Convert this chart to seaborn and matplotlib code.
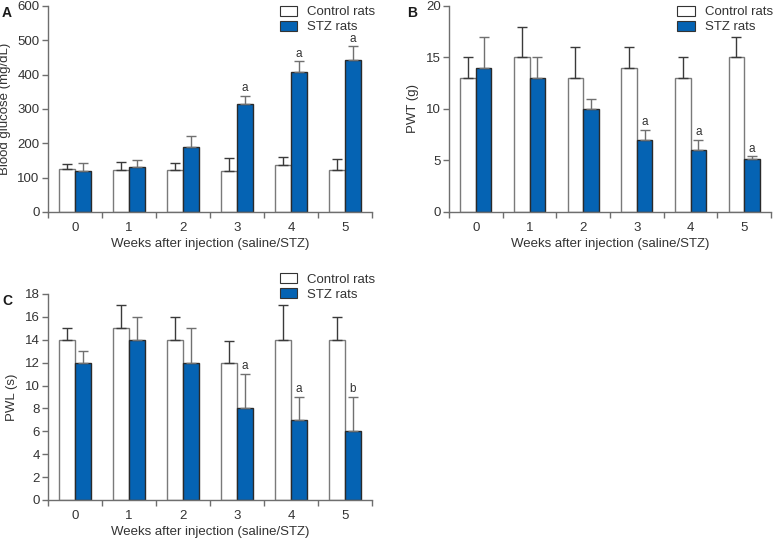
import seaborn as sns
import matplotlib.pyplot as plt
import pandas as pd
import numpy as np
from matplotlib.patches import Patch
from matplotlib.ticker import FixedLocator

weeks = ['0', '1', '2', '3', '4', '5']
groups = ['Control rats', 'STZ rats']

glucose_ctrl = [125, 121, 123, 119, 136, 122]
glucose_ctrl_err = [14, 25, 21, 37, 23, 31]
glucose_stz = [119, 130, 188, 315, 408, 443]
glucose_stz_err = [24, 22, 34, 24, 31, 39]
glucose_sig = ['', '', '', 'a', 'a', 'a']

pwt_ctrl = [13, 15, 13, 14, 13, 15]
pwt_ctrl_err = [2, 3, 3, 2, 2, 2]
pwt_stz = [14, 13, 10, 7, 6, 5.1]
pwt_stz_err = [3, 2, 1, 1, 1, 0.3]
pwt_sig = ['', '', '', 'a', 'a', 'a']

pwl_ctrl = [14, 15, 14, 12, 14, 14]
pwl_ctrl_err = [1, 2, 2, 1.9, 3, 2]
pwl_stz = [12, 14, 12, 8, 7, 6]
pwl_stz_err = [1, 2, 3, 3, 2, 3]
pwl_sig = ['', '', '', 'a', 'a', 'b']

BLUE = '#0563b3'
AXC = '#6e6e6e'
TXT = '#333333'

sns.set_style('white')
plt.rcParams['font.family'] = ['Liberation Sans', 'DejaVu Sans']
plt.rcParams['font.size'] = 9.5
plt.rcParams['text.color'] = TXT
plt.rcParams['axes.labelcolor'] = TXT
plt.rcParams['xtick.color'] = AXC
plt.rcParams['ytick.color'] = AXC
plt.rcParams['xtick.labelcolor'] = TXT
plt.rcParams['ytick.labelcolor'] = TXT


def panel(ax, ctrl, ctrl_err, stz, stz_err, sig, ymax, ystep, ylabel, letter, letter_x, leg_anchor):
    df = pd.DataFrame({
        'week': weeks * 2,
        'group': [groups[0]] * 6 + [groups[1]] * 6,
        'value': list(ctrl) + list(stz),
    })
    sns.barplot(data=df, x='week', y='value', hue='group', order=weeks, hue_order=groups,
                palette={groups[0]: 'white', groups[1]: BLUE}, width=0.58, gap=0,
                errorbar=None, saturation=1, linewidth=1.0, ax=ax, legend=False)
    edges = ['#7a7a7a', '#2a2a2a']
    errs = [ctrl_err, stz_err]
    vals = [ctrl, stz]
    bar_conts = list(ax.containers)[:2]
    for i, cont in enumerate(bar_conts):
        xs = []
        for p in cont.patches:
            p.set_edgecolor(edges[i])
            xs.append(p.get_x() + p.get_width() / 2)
        xs = np.array(xs)
        ax.errorbar(xs, vals[i], yerr=[np.zeros(6), errs[i]], fmt='none',
                    ecolor='#3a3a3a' if i == 0 else '#707070', elinewidth=1.0,
                    capsize=3.5, capthick=1.0, zorder=1)
        if i == 1:
            for x, v, e, s in zip(xs, vals[i], errs[i], sig):
                if s:
                    ax.text(x, v + e + ymax * 0.008, s, ha='center', va='bottom',
                            fontsize=8.5, color=TXT)
    ax.set_xlim(-0.5, 5.5)
    ax.set_ylim(0, ymax)
    ax.set_yticks(np.arange(0, ymax + ystep / 2, ystep))
    ax.set_xticks(range(6))
    ax.set_xticklabels(weeks)
    ax.xaxis.set_minor_locator(FixedLocator(np.arange(-0.5, 6, 1)))
    ax.tick_params(axis='x', which='major', length=0, pad=7)
    ax.tick_params(axis='x', which='minor', length=4, width=1, direction='out', bottom=True)
    ax.tick_params(axis='y', length=4, width=1, direction='out', left=True, pad=2)
    ax.set_xlabel('Weeks after injection (saline/STZ)', labelpad=3)
    ax.set_ylabel(ylabel, labelpad=5)
    for s in ['top', 'right']:
        ax.spines[s].set_visible(False)
    for s in ['left', 'bottom']:
        ax.spines[s].set_color(AXC)
        ax.spines[s].set_linewidth(1.0)
    handles = [Patch(facecolor='white', edgecolor='#333333', linewidth=0.8),
               Patch(facecolor=BLUE, edgecolor='#333333', linewidth=0.8)]
    ax.legend(handles, groups, loc='upper right', bbox_to_anchor=leg_anchor, frameon=False,
              handlelength=1.3, handleheight=0.75, handletextpad=0.75, labelspacing=0.2,
              borderaxespad=0, borderpad=0, fontsize=9.5)
    ax.text(letter_x, 1.0, letter, transform=ax.transAxes, fontweight='bold', fontsize=10,
            va='top', ha='left', color='#1a1a1a')


fig = plt.figure(figsize=(7.76, 5.39), dpi=100)
axA = fig.add_axes([0.0619, 0.6067, 0.4175, 0.3822])
axB = fig.add_axes([0.5786, 0.6067, 0.4150, 0.3822])
axC = fig.add_axes([0.0619, 0.0724, 0.4175, 0.3822])

panel(axA, glucose_ctrl, glucose_ctrl_err, glucose_stz, glucose_stz_err, glucose_sig,
      600, 100, 'Blood glucose (mg/dL)', 'A', -0.142, (1.01, 1.0))
panel(axB, pwt_ctrl, pwt_ctrl_err, pwt_stz, pwt_stz_err, pwt_sig,
      20, 5, 'PWT (g)', 'B', -0.13, (1.005, 1.0))
panel(axC, pwl_ctrl, pwl_ctrl_err, pwl_stz, pwl_stz_err, pwl_sig,
      18, 2, 'PWL (s)', 'C', -0.142, (1.01, 1.1))

fig.savefig('out.png', dpi=100)
